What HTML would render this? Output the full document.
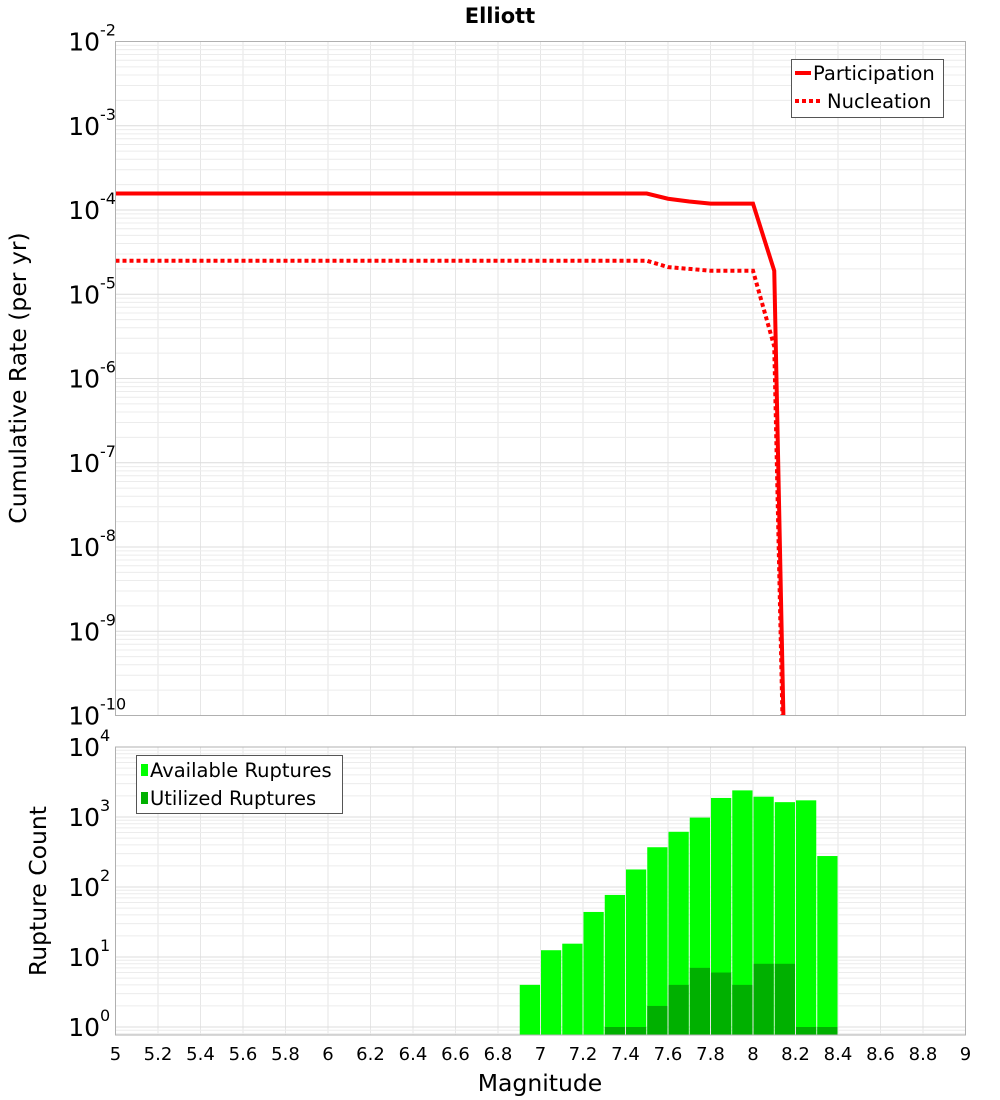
<!DOCTYPE html>
<html><head><meta charset="utf-8"><style>
html,body{margin:0;background:#fff;width:1000px;height:1100px;overflow:hidden}
svg{display:block;font-family:"DejaVu Sans","Liberation Sans",sans-serif}
</style></head><body>
<svg id="chart" width="1000" height="1100" xmlns="http://www.w3.org/2000/svg"></svg>
<script>
const xTicks=[5,5.2,5.4,5.6,5.8,6,6.2,6.4,6.6,6.8,7,7.2,7.4,7.6,7.8,8,8.2,8.4,8.6,8.8,9];
const xTickLabels=["5","5.2","5.4","5.6","5.8","6","6.2","6.4","6.6","6.8","7","7.2","7.4","7.6","7.8","8","8.2","8.4","8.6","8.8","9"];
const rateMags=[5,5.1,5.2,5.3,5.4,5.5,5.6,5.7,5.8,5.9,6,6.1,6.2,6.3,6.4,6.5,6.6,6.7,6.8,6.9,7,7.1,7.2,7.3,7.4,7.5,7.6,7.7,7.8,7.9,8,8.1,8.2];
const participation=[1.57e-4,1.57e-4,1.57e-4,1.57e-4,1.57e-4,1.57e-4,1.57e-4,1.57e-4,1.57e-4,1.57e-4,1.57e-4,1.57e-4,1.57e-4,1.57e-4,1.57e-4,1.57e-4,1.57e-4,1.57e-4,1.57e-4,1.57e-4,1.57e-4,1.57e-4,1.57e-4,1.57e-4,1.57e-4,1.57e-4,1.36e-4,1.26e-4,1.19e-4,1.19e-4,1.19e-4,1.9e-5,1e-17];
const nucleation=[2.5e-5,2.5e-5,2.5e-5,2.5e-5,2.5e-5,2.5e-5,2.5e-5,2.5e-5,2.5e-5,2.5e-5,2.5e-5,2.5e-5,2.5e-5,2.5e-5,2.5e-5,2.5e-5,2.5e-5,2.5e-5,2.5e-5,2.5e-5,2.5e-5,2.5e-5,2.5e-5,2.5e-5,2.5e-5,2.5e-5,2.1e-5,2.0e-5,1.9e-5,1.9e-5,1.9e-5,2.4e-6,1e-17];
const barMags=[6.95,7.05,7.15,7.25,7.35,7.45,7.55,7.65,7.75,7.85,7.95,8.05,8.15,8.25,8.35];
const available=[4,12.5,15.5,44,77,178,370,615,980,1870,2400,1950,1630,1730,277];
const utilized=[0,0,0,0,1,1,2,4,7,6,4,8,8,1,1];
const topExps=[-2,-3,-4,-5,-6,-7,-8,-9,-10];
const botExps=[4,3,2,1,0];

const NS="http://www.w3.org/2000/svg";
const svg=document.getElementById('chart');
function mk(tag,attrs,parent){const e=document.createElementNS(NS,tag);for(const k in attrs)e.setAttribute(k,attrs[k]);(parent||svg).appendChild(e);return e;}
const X0=115.5,X1=965.5;
const xs=m=>X0+(m-5)/4*(X1-X0);
const T0=41.5,T1=715.5;
const ysTop=v=>T0+(-2-Math.log10(v))*(T1-T0)/8;
const B0=747,Bone=1027,B1=1035;
const ysBot=v=>Bone-Math.log10(v)*(Bone-B0)/4;

let t=mk('text',{x:500,y:23,'text-anchor':'middle','font-size':21,'font-weight':'bold'});t.textContent='Elliott';


function grid(y0,y1,expHi,expLo,ys,name){
  const g=mk('g',{});
  
  for(const m of xTicks){mk('line',{x1:xs(m),x2:xs(m),y1:y0,y2:y1,stroke:'#e6e6e6','stroke-width':1},g);}
  for(let e=expLo-1;e<expHi;e++){for(let k=1;k<10;k++){const y=ys(k*Math.pow(10,e));if(y>=y0&&y<=y1)mk('line',{x1:X0,x2:X1,y1:y,y2:y,stroke:k==1?'#dcdcdc':'#ececec','stroke-width':1},g);}}
}
grid(T0,T1,-2,-10,ysTop,'top-grid');
grid(B0,B1,4,0,ysBot,'bottom-grid');

function line(vals,dash,name){
  let d='';vals.forEach((v,i)=>{d+=(i?'L':'M')+xs(rateMags[i]).toFixed(2)+' '+ysTop(v).toFixed(2);});
  const p=mk('path',{d:d,fill:'none',stroke:'#ff0000','stroke-width':4,'stroke-dasharray':dash||'none','clip-path':'url(#ctop)'});
  
}
const defs=mk('defs',{});const cp=mk('clipPath',{id:'ctop'},defs);mk('rect',{x:X0,y:T0,width:X1-X0,height:T1-T0},cp);
line(nucleation,'4 3','nucleation-line');
line(participation,null,'participation-line');

barMags.forEach((m,i)=>{
  const x=xs(m-0.05)+0.5,w=xs(m+0.05)-xs(m-0.05)-1;
  const y=ysBot(available[i]);
  const r=mk('rect',{x:x,y:y,width:w,height:B1-y,fill:'#00ff00'});
  
  if(utilized[i]>0){const yu=ysBot(utilized[i]);
    const u=mk('rect',{x:x,y:yu,width:w,height:B1-yu,fill:'#00b000'});
    }
});

const f1=mk('rect',{x:X0,y:T0,width:X1-X0,height:T1-T0,fill:'none',stroke:'#b0b0b0'});
const f2=mk('rect',{x:X0,y:B0,width:X1-X0,height:B1-B0,fill:'none',stroke:'#b0b0b0'});

function ylab(y,e,name){
  const tx=mk('text',{x:100,y:y+9,'text-anchor':'end','font-size':25});tx.textContent='10';
  
  const s=mk('text',{x:100,y:y-6,'font-size':16});s.textContent=String(e);
  
}
topExps.forEach(e=>ylab(ysTop(Math.pow(10,e)),e,'top-y-tick'));
botExps.forEach(e=>ylab(ysBot(Math.pow(10,e)),e,'bottom-y-tick'));

xTicks.forEach((m,i)=>{const tx=mk('text',{x:xs(m),y:1060,'text-anchor':'middle','font-size':18});tx.textContent=xTickLabels[i];
  });

let a=mk('text',{x:540,y:1091,'text-anchor':'middle','font-size':23.5});a.textContent='Magnitude';
a=mk('text',{x:0,y:0,'text-anchor':'middle','font-size':23.5,transform:'translate(26,378) rotate(-90)'});a.textContent='Cumulative Rate (per yr)';
a=mk('text',{x:0,y:0,'text-anchor':'middle','font-size':23.5,transform:'translate(46,891) rotate(-90)'});a.textContent='Rupture Count';

let lg=mk('g',{});
mk('rect',{x:791.5,y:59.5,width:152,height:58,fill:'#fff',stroke:'#555'},lg);
mk('line',{x1:795,x2:811,y1:73,y2:73,stroke:'#f00','stroke-width':4},lg);
mk('line',{x1:795,x2:821,y1:101,y2:101,stroke:'#f00','stroke-width':4,'stroke-dasharray':'4 3'},lg);
let lt=mk('text',{x:813,y:80,'font-size':19.5},lg);lt.textContent='Participation';
lt=mk('text',{x:827,y:108,'font-size':19.5},lg);lt.textContent='Nucleation';

lg=mk('g',{});
mk('rect',{x:136.5,y:755.5,width:206,height:58,fill:'#fff',stroke:'#555'},lg);
mk('rect',{x:141,y:764,width:7,height:12,fill:'#00ff00'},lg);
mk('rect',{x:141,y:792,width:7,height:12,fill:'#00b000'},lg);
lt=mk('text',{x:150,y:777,'font-size':19.5},lg);lt.textContent='Available Ruptures';
lt=mk('text',{x:150,y:805,'font-size':19.5},lg);lt.textContent='Utilized Ruptures';
</script>
</body></html>
